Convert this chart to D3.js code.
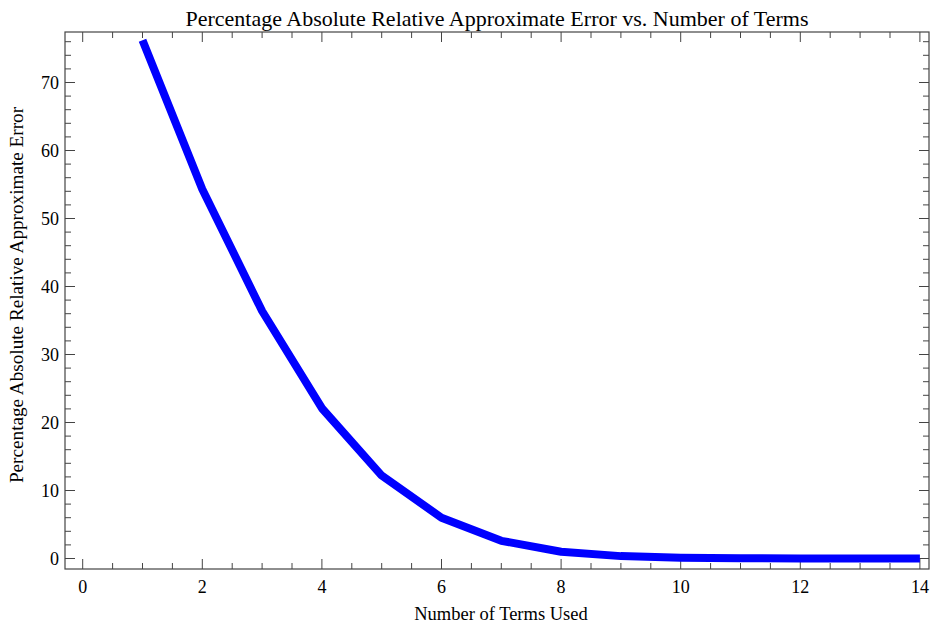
<!DOCTYPE html>
<html><head><meta charset="utf-8">
<script src="https://cdn.jsdelivr.net/npm/d3@7"></script>
<style>body{margin:0;background:#fff}svg{display:block}text{font-family:"Liberation Serif","Times New Roman",serif;fill:#000}</style>
</head><body><svg id="c" width="933" height="626"></svg>
<script>
const terms = [1,2,3,4,5,6,7,8,9,10,11,12,13,14];
const errors = [76.2,54.3,36.4,22.1,12.2,6.0,2.6,1.0,0.35,0.12,0.04,0.01,0.003,0.001];
const xMajor = [0,2,4,6,8,10,12,14];
const yMajor = [0,10,20,30,40,50,60,70];
const title = "Percentage Absolute Relative Approximate Error vs. Number of Terms";
const xLabel = "Number of Terms Used";
const yLabel = "Percentage Absolute Relative Approximate Error";

const svg = d3.select("#c");
const L=65,R=929,T=32,B=569;
const x = d3.scaleLinear().domain([0,14]).range([82.7,919.9]);
const y = d3.scaleLinear().domain([0,70]).range([558.5,82.5]);
const tickCol="#444";
svg.append("rect").attr("x",L).attr("y",T).attr("width",R-L).attr("height",B-T).attr("fill","none").attr("stroke",tickCol).attr("stroke-width",1.2);
const xMinor = d3.range(0,14.01,0.5);
const yMinor = d3.range(0,76.1,2);
const g = svg.append("g").attr("stroke",tickCol).attr("stroke-width",1);
xMinor.forEach(v=>{
  const len = (Math.abs(v%2)<1e-9)?10:6;
  const px=x(v);
  g.append("line").attr("x1",px).attr("x2",px).attr("y1",B).attr("y2",B-len);
  g.append("line").attr("x1",px).attr("x2",px).attr("y1",T).attr("y2",T+len);
});
yMinor.forEach(v=>{
  const len = (Math.abs(v%10)<1e-9)?10:6;
  const py=y(v);
  g.append("line").attr("x1",L).attr("x2",L+len).attr("y1",py).attr("y2",py);
  g.append("line").attr("x1",R).attr("x2",R-len).attr("y1",py).attr("y2",py);
});
svg.append("g").selectAll("text").data(xMajor).join("text")
  .attr("x",d=>x(d)).attr("y",593).attr("text-anchor","middle").attr("font-size",18).text(d=>d);
svg.append("g").selectAll("text").data(yMajor).join("text")
  .attr("x",59).attr("y",d=>y(d)+6.3).attr("text-anchor","end").attr("font-size",18).text(d=>d);
const line = d3.line().x((d,i)=>x(terms[i])).y(d=>y(d));
svg.append("path").datum(errors).attr("d",line).attr("fill","none").attr("stroke","#0000ff").attr("stroke-width",8).attr("stroke-linejoin","round");
svg.append("text").attr("x",497).attr("y",26).attr("text-anchor","middle").attr("font-size",22).text(title);
svg.append("text").attr("x",501).attr("y",620).attr("text-anchor","middle").attr("font-size",18.5).text(xLabel);
svg.append("text").attr("transform","translate(23,295) rotate(-90)").attr("text-anchor","middle").attr("font-size",19.2).text(yLabel);
</script></body></html>
